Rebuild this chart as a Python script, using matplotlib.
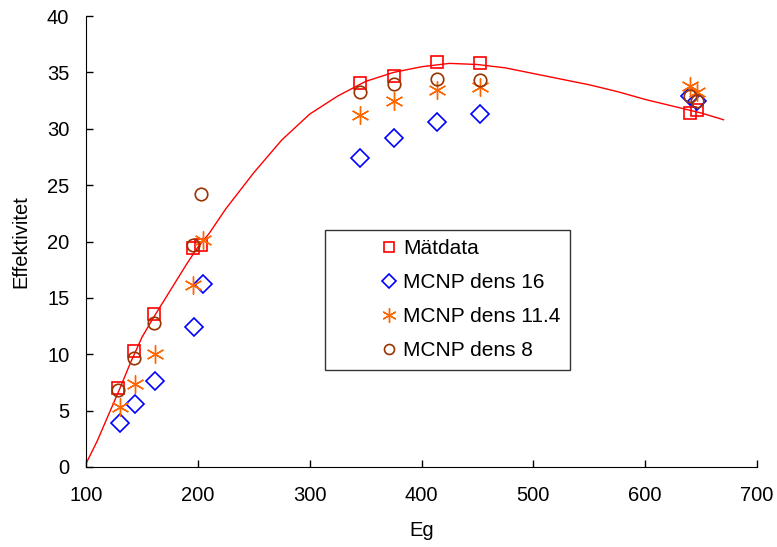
import matplotlib.pyplot as plt

# Mätdata
eg_mat = [129, 143, 161, 196, 203, 345, 375, 414, 452, 640, 646]
eff_mat = [7.0, 10.3, 13.6, 19.4, 19.7, 34.1, 34.7, 35.9, 35.8, 31.4, 31.7]

# MCNP dens 16
eg_d16 = [130, 144, 162, 197, 205, 345, 375, 414, 452, 640, 646]
eff_d16 = [3.9, 5.6, 7.6, 12.4, 16.2, 27.4, 29.2, 30.6, 31.3, 32.9, 32.5]

# MCNP dens 11.4
eg_d114 = [130, 144, 162, 196, 205, 345, 375, 414, 452, 640, 646]
eff_d114 = [5.3, 7.4, 10.0, 16.1, 20.1, 31.2, 32.5, 33.4, 33.7, 33.8, 33.3]

# MCNP dens 8
eg_d8 = [129, 143, 161, 196, 203, 345, 375, 414, 452, 640, 646]
eff_d8 = [6.8, 9.7, 12.8, 19.7, 24.2, 33.3, 34.0, 34.4, 34.3, 32.9, 32.5]

# anpassad kurva
eg_fit = [100, 110, 120, 130, 140, 150, 160, 175, 190, 200, 210, 225, 250, 275,
          300, 325, 350, 375, 400, 425, 450, 475, 500, 525, 550, 575, 600, 625,
          650, 670]
eff_fit = [0.3, 2.3, 4.6, 6.9, 9.3, 11.5, 13.2, 15.6, 18.0, 19.5, 20.7, 22.9,
           26.1, 29.0, 31.3, 32.9, 34.2, 35.0, 35.5, 35.8, 35.7, 35.4, 34.9,
           34.4, 33.9, 33.3, 32.6, 32.0, 31.4, 30.8]

plt.rcParams['font.family'] = ['Liberation Sans', 'DejaVu Sans']

fig = plt.figure(figsize=(7.77, 5.47), dpi=100)
ax = fig.add_axes([0.1107, 0.1463, 0.8636, 0.8244])

ax.plot(eg_fit, eff_fit, color='#FF0000', lw=1)
ax.plot(eg_mat, eff_mat, ls='none', marker='s', ms=9, mfc='none',
        mec='#FF0000', mew=1.2, label='Mätdata')
ax.plot(eg_d16, eff_d16, ls='none', marker='D', ms=9, mfc='none',
        mec='#0000FF', mew=1.2, label='MCNP dens 16')
ax.plot(eg_d114, eff_d114, ls='none', marker=(6, 2, 0), ms=13,
        mec='#FF6600', mew=1.0, label='MCNP dens 11.4')
ax.plot(eg_d8, eff_d8, ls='none', marker='o', ms=9, mfc='none',
        mec='#993300', mew=1.2, label='MCNP dens 8')

ax.set_xlim(100, 700)
ax.set_ylim(0, 40)
ax.set_xticks(range(100, 701, 100))
ax.set_yticks(range(0, 41, 5))
ax.tick_params(direction='in', labelsize=14.5, length=5, width=1)
ax.tick_params(axis='x', pad=14)
ax.tick_params(axis='y', pad=12)
ax.spines['top'].set_visible(False)
ax.spines['right'].set_visible(False)
ax.set_xlabel('Eg', fontsize=14.5)
ax.set_ylabel('Effektivitet', fontsize=14.5)
ax.xaxis.set_label_coords(0.5, -0.12)
ax.yaxis.set_label_coords(-0.083, 0.5)

leg = ax.legend(loc='upper left', bbox_to_anchor=(0.356, 0.5255), fontsize=15,
                frameon=True, fancybox=False, edgecolor='black',
                borderpad=0.45, handlelength=5.3, handletextpad=-2.0,
                labelspacing=0.72, borderaxespad=0, markerscale=0.8)
leg.get_frame().set_linewidth(1)

plt.savefig('out.png', dpi=100)
